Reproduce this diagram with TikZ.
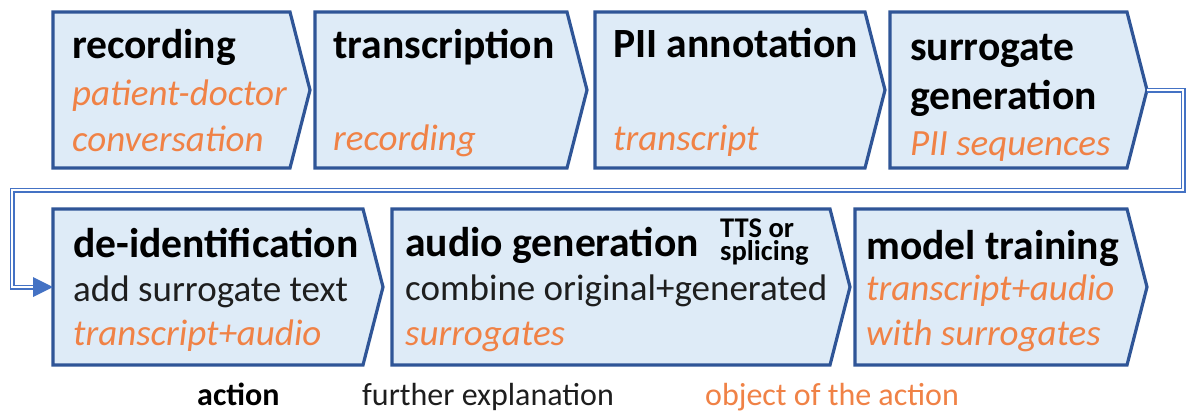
\documentclass[tikz,border=0pt]{standalone}
\usepackage{fontspec}
\setmainfont{Carlito}
\usetikzlibrary{calc,arrows.meta}
\definecolor{boxfill}{RGB}{222,235,247}
\definecolor{boxline}{RGB}{47,85,151}
\definecolor{connline}{RGB}{68,114,196}
\definecolor{objorange}{RGB}{240,130,70}
\definecolor{txtdark}{RGB}{30,30,30}
\tikzset{
  stepbody/.style={rectangle, inner sep=0pt, outer sep=0pt},
  stepshape/.style={draw=boxline, fill=boxfill, line width=3.2pt, line join=miter},
  ttl/.style={anchor=base west, inner sep=0pt, font=\fontsize{41.6}{50}\selectfont\bfseries, text=black},
  smallttl/.style={anchor=north west, inner sep=0pt, align=left, font=\fontsize{28.5}{23.5}\selectfont\bfseries, text=black},
  expl/.style={anchor=base west, inner sep=0pt, font=\fontsize{37}{44}\selectfont, text=txtdark},
  obj/.style={anchor=base west, inner sep=0pt, font=\fontsize{37}{44}\selectfont\itshape, text=objorange},
  legbold/.style={anchor=base west, inner sep=0pt, font=\fontsize{32}{38}\selectfont\bfseries, text=black},
  legexpl/.style={anchor=base west, inner sep=0pt, font=\fontsize{32}{38}\selectfont, text=txtdark},
  legobj/.style={anchor=base west, inner sep=0pt, font=\fontsize{32}{38}\selectfont, text=objorange},
  conn/.style={draw=connline, double=white, line width=1.5pt, double distance=2pt, line join=miter},
  arrowhd/.style={draw=none, fill=connline},
}
\newcommand{\drawstep}[1]{%
  \draw[stepshape] (#1.north west) -- (#1.north east) -- ([xshift=20pt]#1.east) coordinate (#1tip)
    -- (#1.south east) -- (#1.south west) -- cycle;}
\begin{document}
\begin{tikzpicture}[x=1pt,y=-1pt]
\fill[white] (0,0) rectangle (1186,412);
\useasboundingbox (0,0) rectangle (1186,412);

% row 1 boxes
\node[stepbody, minimum width=237pt, minimum height=156pt] (b1) at (171.5,90) {};
\node[stepbody, minimum width=252pt, minimum height=156pt] (b2) at (441,90) {};
\node[stepbody, minimum width=270pt, minimum height=156pt] (b3) at (730,90) {};
\node[stepbody, minimum width=237pt, minimum height=156pt] (b4) at (1008.5,90) {};
% row 2 boxes
\node[stepbody, minimum width=310pt, minimum height=156pt] (b5) at (208,287) {};
\node[stepbody, minimum width=438pt, minimum height=156pt] (b6) at (611,287) {};
\node[stepbody, minimum width=272pt, minimum height=156pt] (b7) at (991,287) {};

\drawstep{b1}\drawstep{b2}\drawstep{b3}\drawstep{b4}
\drawstep{b5}\drawstep{b6}\drawstep{b7}

% connector from row 1 to row 2
\coordinate (cr) at (1183,190);
\coordinate (cl) at (12,190);
\coordinate (ab) at (36,287);
\draw[conn] (b4tip) -| (cr) -- (cl) |- (ab);
\path[arrowhd] (b5.west) -- ++(-20,-10) -- ++(0,20) -- cycle;

% texts row 1
\node[ttl] (t1a) at (72,59) {recording};
\node[obj] (t1b) at (72,106) {patient-doctor};
\node[obj] (t1c) at (72,151) {conversation};

\node[ttl] (t2a) at (333,59) {transcription};
\node[obj] (t2c) at (333,150) {recording};

\node[ttl] (t3a) at (613,58) {PII annotation};
\node[obj] (t3c) at (613,150) {transcript};

\node[ttl] (t4a) at (910,60) {surrogate};
\node[ttl] (t4b) at (910,110) {generation};
\node[obj] (t4c) at (910,155) {PII sequences};

% texts row 2
\node[ttl] (t5a) at (73,257) {de-identification};
\node[expl] (t5b) at (73,301) {add surrogate text};
\node[obj] (t5c) at (73,345) {transcript+audio};

\node[ttl] (t6a) at (405,256) {audio generation};
\node[smallttl] (t6s) at (720,218.5) {TTS or\\splicing};
\node[expl] (t6b) at (405,300) {combine original+generated};
\node[obj] (t6c) at (405,345) {surrogates};

\node[ttl] (t7a) at (866,259) {model training};
\node[obj] (t7b) at (866,300) {transcript+audio};
\node[obj] (t7c) at (866,345) {with surrogates};

% legend
\node[legbold] (la) at (197,405) {action};
\node[legexpl] (lb) at (362,405) {further explanation};
\node[legobj] (lc) at (705,405) {object of the action};
\end{tikzpicture}
\end{document}
